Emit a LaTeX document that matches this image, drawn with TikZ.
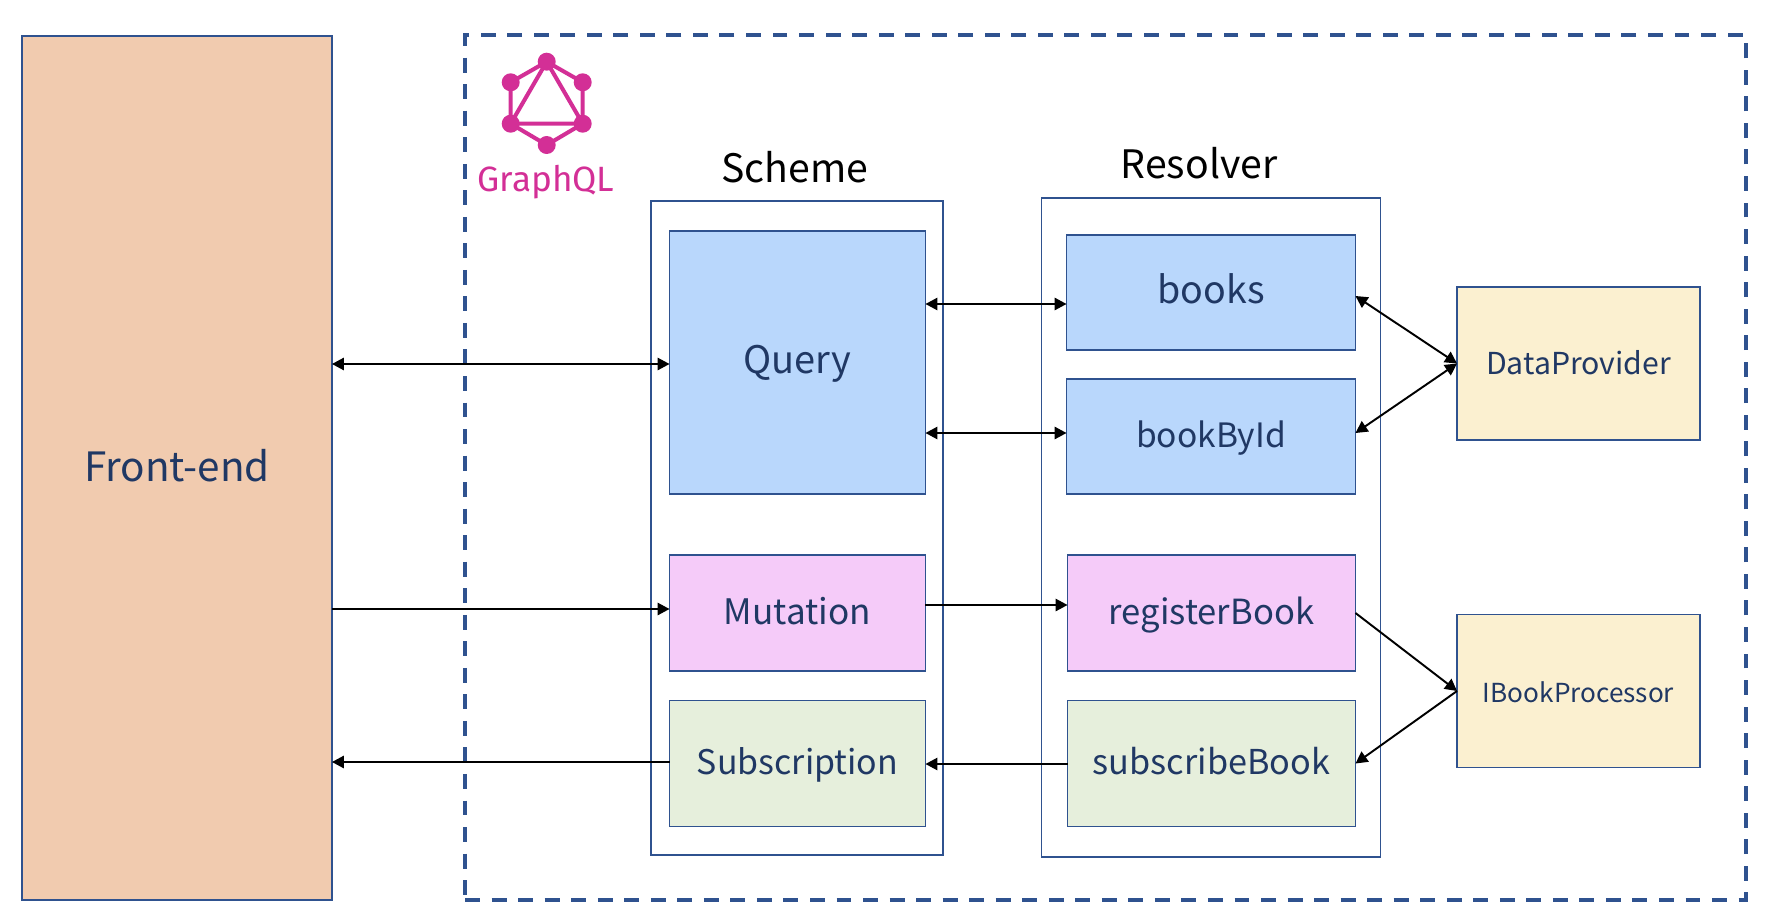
\documentclass[tikz,border=0pt]{standalone}
\usepackage{fontspec}
\setmainfont{Noto Sans CJK JP}
\newfontfamily\logofont{Fira Sans}
\usetikzlibrary{arrows.meta}
\definecolor{edgeblue}{HTML}{2F528F}
\definecolor{textblue}{HTML}{203864}
\definecolor{frontfill}{HTML}{F1CBAF}
\definecolor{queryfill}{HTML}{B9D7FC}
\definecolor{mutfill}{HTML}{F5CBF9}
\definecolor{subfill}{HTML}{E6EFDC}
\definecolor{backfill}{HTML}{FBF0D0}
\definecolor{logopink}{HTML}{D32F96}
\newcommand{\fsize}[1]{\fontsize{#1}{#1}\selectfont}
\begin{document}
\begin{tikzpicture}[x=0.02cm, y=-0.02cm,
  % Node styles
  outerbox/.style={rectangle, draw=edgeblue, line width=0.95pt, outer sep=0pt, inner sep=0pt},
  opbox/.style={outerbox, text=textblue, align=center, text height=16pt, text depth=3pt},
  schbox/.style={opbox, minimum width=5.12cm},
  resbox/.style={opbox, minimum width=5.78cm},
  backbox/.style={opbox, fill=backfill, minimum width=4.86cm, minimum height=3.06cm},
  colhead/.style={font=\fsize{22.3}, text=black},
  logodot/.style={circle, fill=logopink, minimum size=0.36cm, inner sep=0pt},
  logoline/.style={draw=logopink, line width=2.3pt},
  arr/.style={-{Triangle[length=6.8pt,width=7pt]}, draw=black, line width=1.1pt},
  biarr/.style={{Triangle[length=6.8pt,width=7pt]}-{Triangle[length=6.8pt,width=7pt]}, draw=black, line width=1.1pt},
]
\useasboundingbox (0,0) rectangle (1780,922);

% === Column positions ===
\def\colS{797.5}
\def\colR{1211}
\def\colB{1578.5}

% === Front-end and GraphQL frame ===
\node[opbox, fill=frontfill, minimum width=6.2cm, minimum height=17.28cm,
  text height=18pt, font=\fsize{23}] (front) at (177, 468) {Front-end};
\node[rectangle, draw=edgeblue, line width=2.2pt, dash pattern=on 8.5pt off 6.6pt,
  minimum width=25.62cm, minimum height=17.3cm, outer sep=0pt] (frame) at (1105.5, 467.5) {};

% === GraphQL logo ===
\node[logodot] (l1) at (546.7, 61.7) {};
\node[logodot] (l2) at (582.7, 82.3) {};
\node[logodot] (l3) at (582.7, 123.7) {};
\node[logodot] (l4) at (546.7, 145) {};
\node[logodot] (l5) at (510.7, 123.7) {};
\node[logodot] (l6) at (510.7, 82.3) {};
\draw[logoline] (l1.center) -- (l2.center) -- (l3.center) -- (l4.center) -- (l5.center) -- (l6.center) -- cycle;
\draw[logoline] (l1.center) -- (l3.center) -- (l5.center) -- cycle;
\node[text=logopink, font=\logofont\fsize{20}] (logotext) at (546, 182) {GraphQL};

% === Column headers ===
\node[colhead] (h1) at (795, 167) {Scheme};
\node[colhead] (h2) at (1199, 163) {Resolver};

% === Scheme and Resolver containers ===
\node[outerbox, minimum width=5.84cm, minimum height=13.08cm] (scheme) at (797, 528) {};
\node[outerbox, minimum width=6.78cm, minimum height=13.18cm] (resolver) at (1211, 527.5) {};

% === Scheme operations ===
\node[schbox, fill=queryfill, minimum height=5.26cm, font=\fsize{21.6}] (query) at (\colS, 362.5) {Query};
\node[schbox, fill=mutfill, minimum height=2.32cm, font=\fsize{20}] (mutation) at (\colS, 613) {Mutation};
\node[schbox, fill=subfill, minimum height=2.52cm, font=\fsize{19.3}] (subscription) at (\colS, 763.5) {Subscription};

% === Resolver operations ===
\node[resbox, fill=queryfill, minimum height=2.3cm, font=\fsize{21.4}] (books) at (\colR, 292.5) {books};
\node[resbox, fill=queryfill, minimum height=2.3cm, font=\fsize{19.1}] (bookbyid) at (\colR, 436.5) {bookById};
\node[resbox, fill=mutfill, minimum height=2.32cm, minimum width=5.76cm, font=\fsize{19.7}] (register) at (\colR+0.5, 613) {registerBook};
\node[resbox, fill=subfill, minimum height=2.52cm, minimum width=5.76cm, font=\fsize{19.5}] (subscribe) at (\colR+0.5, 763.5) {subscribeBook};

% === Back-end boxes ===
\node[backbox, font=\fsize{17.2}] (provider) at (\colB, 363.5) {DataProvider};
\node[backbox, font=\fsize{14.9}] (processor) at (\colB, 691) {IBookProcessor};

% Heights where the arrows leave the boxes
\coordinate (ya) at (0, 304);
\coordinate (yb) at (0, 433);
\coordinate (yc) at (0, 609);
\coordinate (yd) at (0, 605);
\coordinate (ye) at (0, 364);
\coordinate (yf) at (0, 762);
\coordinate (yg) at (0, 764);
\coordinate (yh) at (0, 296);

% === Arrows: Front-end and Scheme ===
\draw[biarr] (front.east |- ye) -- (query.west |- ye);
\draw[arr] (front.east |- yc) -- (mutation.west |- yc);
\draw[arr] (subscription.west |- yf) -- (front.east |- yf);

% === Arrows: Scheme and Resolver ===
\draw[biarr] (query.east |- ya) -- (books.west |- ya);
\draw[biarr] (query.east |- yb) -- (bookbyid.west |- yb);
\draw[arr] (mutation.east |- yd) -- (register.west |- yd);
\draw[arr] (subscribe.west |- yg) -- (subscription.east |- yg);

% === Arrows: Resolver and back-end ===
\draw[biarr] (books.east |- yh) -- (provider.west);
\draw[biarr] (bookbyid.east |- yb) -- (provider.west);
\draw[arr] (register.east) -- (processor.west);
\draw[arr] (processor.west) -- (subscribe.east);

\end{tikzpicture}
\end{document}
